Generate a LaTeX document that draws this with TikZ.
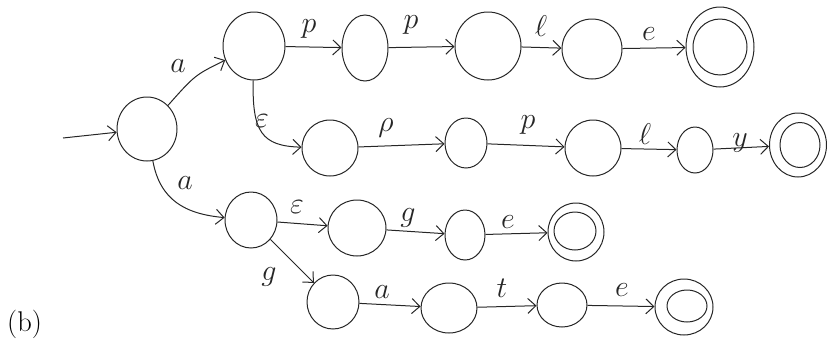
\RequirePackage{fix-cm}
\documentclass[tikz,border=0pt]{standalone}
\usetikzlibrary{shapes.geometric,arrows.meta}
\tikzset{
  ink/.style={draw=black!85, line width=1pt},
  st/.style={ink, ellipse, inner sep=0pt},
  tr/.style={ink, -{Straight Barb[length=8pt,width=15pt,line width=1pt]}},
  lab/.style={inner sep=0pt, font=\fontsize{30}{32}\selectfont, text=black!85},
}
\begin{document}
\begin{tikzpicture}[x=1pt,y=-1pt]
\useasboundingbox (0,0) rectangle (827,346);
% states
\node[st, minimum width=60pt, minimum height=64pt] (s) at (147,129) {};
\node[st, minimum width=62pt, minimum height=68pt] (a1) at (254,46) {};
\node[st, minimum width=46pt, minimum height=66pt] (b1) at (365,48) {};
\node[st, minimum width=66pt, minimum height=68pt] (b2) at (488,46) {};
\node[st, minimum width=60pt, minimum height=60pt] (b3) at (592,49) {};
\node[st, minimum width=68pt, minimum height=80pt] (f1) at (720,47) {};
\node[st, minimum width=54pt, minimum height=56pt] (f1in) at (720,47) {};
\node[st, minimum width=56pt, minimum height=56pt] (c1) at (330,148) {};
\node[st, minimum width=42pt, minimum height=50pt] (c2) at (466,143) {};
\node[st, minimum width=56pt, minimum height=56pt] (c3) at (593,148) {};
\node[st, minimum width=36pt, minimum height=46pt] (c4) at (695,150) {};
\node[st, minimum width=57pt, minimum height=64pt] (f2) at (798,145) {};
\node[st, minimum width=40pt, minimum height=45pt] (f2in) at (800,145) {};
\node[st, minimum width=52pt, minimum height=56pt] (d1) at (251,220) {};
\node[st, minimum width=58pt, minimum height=56pt] (d2) at (357,228) {};
\node[st, minimum width=40pt, minimum height=50pt] (d3) at (465,235) {};
\node[st, minimum width=56pt, minimum height=58pt] (f3) at (576,232) {};
\node[st, minimum width=42pt, minimum height=38pt] (f3in) at (575,231) {};
\node[st, minimum width=52pt, minimum height=54pt] (e1) at (333,302) {};
\node[st, minimum width=56pt, minimum height=50pt] (e2) at (449,308) {};
\node[st, minimum width=50pt, minimum height=44pt] (e3) at (562,305) {};
\node[st, minimum width=58pt, minimum height=56pt] (f4) at (684,307) {};
\node[st, minimum width=40pt, minimum height=32pt] (f4in) at (687,306) {};
% transitions
\coordinate (in) at (63,138);
\draw[tr] (in) -- (s);
\draw[tr] (s) .. controls (195,75) .. (a1);
\draw[tr] (a1) -- (b1);
\draw[tr] (b1) -- (b2);
\draw[tr] (b2) -- (b3);
\draw[tr] (b3) -- (f1);
\draw[tr] (a1) .. controls (252,132) and (262,146) .. (c1);
\draw[tr] (c1) -- (c2);
\draw[tr] (c2) -- (c3);
\draw[tr] (c3) -- (c4);
\draw[tr] (c4) -- (f2);
\draw[tr] (s) .. controls (160,200) and (185,214) .. (d1);
\draw[tr] (d1) -- (d2);
\draw[tr] (d2) -- (d3);
\draw[tr] (d3) -- (f3);
\draw[tr] (d1) -- (e1);
\draw[tr] (e1) -- (e2);
\draw[tr] (e2) -- (e3);
\draw[tr] (e3) -- (f4);
% labels
\node[lab] (l1) at (178,66) {$a$};
\node[lab] (l2) at (309,29) {$p$};
\node[lab] (l3) at (411,25) {$p$};
\node[lab] (l4) at (541,26) {$\ell$};
\node[lab] (l5) at (649,34) {$e$};
\node[lab] (l6) at (262,121) {$\varepsilon$};
\node[lab] (l7) at (386,128) {$\rho$};
\node[lab] (l8) at (528,125) {$p$};
\node[lab] (l9) at (645,134) {$\ell$};
\node[lab] (l10) at (740,143) {$y$};
\node[lab] (l11) at (185,183) {$a$};
\node[lab] (l12) at (297,207) {$\varepsilon$};
\node[lab] (l13) at (408,218) {$g$};
\node[lab] (l14) at (508,222) {$e$};
\node[lab] (l15) at (269,277) {$g$};
\node[lab] (l16) at (382,292) {$a$};
\node[lab] (l17) at (502,288) {$t$};
\node[lab] (l18) at (622,290) {$e$};
\node[anchor=base west, inner sep=0pt, font=\fontsize{28.5}{30}\selectfont] (cap) at (7,331) {(b)};
\end{tikzpicture}
\end{document}
